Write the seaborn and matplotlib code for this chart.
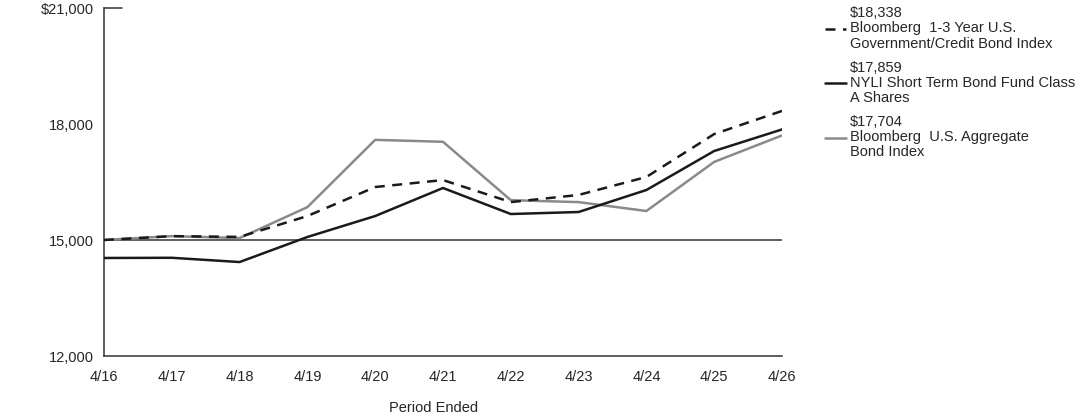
import matplotlib
matplotlib.use("Agg")
import matplotlib.pyplot as plt
import seaborn as sns
import pandas as pd
from matplotlib.ticker import FuncFormatter

periods = ["4/16", "4/17", "4/18", "4/19", "4/20", "4/21", "4/22", "4/23", "4/24", "4/25", "4/26"]
bench_1_3 = [15000, 15100, 15080, 15620, 16370, 16550, 15980, 16165, 16630, 17740, 18338]
fund_a = [14535, 14540, 14430, 15078, 15620, 16345, 15672, 15724, 16293, 17302, 17859]
aggregate = [15000, 15100, 15050, 15850, 17590, 17540, 16030, 15980, 15750, 17020, 17704]

labels = [
    "$18,338\nBloomberg  1-3 Year U.S.\nGovernment/Credit Bond Index",
    "$17,859\nNYLI Short Term Bond Fund Class\nA Shares",
    "$17,704\nBloomberg  U.S. Aggregate\nBond Index",
]

sns.set_style("white")
plt.rcParams["font.family"] = ["Liberation Sans", "DejaVu Sans"]
FS = 10.5

fig = plt.figure(figsize=(10.92, 4.17), dpi=100)
ax = fig.add_axes([104 / 1092, 1 - 356 / 417, (782 - 104) / 1092, (356 - 8) / 417])

x = list(range(len(periods)))
df = pd.DataFrame({"x": x, "b": bench_1_3, "f": fund_a, "g": aggregate})

ax.axhline(15000, color="#333333", lw=1.1, zorder=1)
sns.lineplot(data=df, x="x", y="g", ax=ax, color="#8a8a8a", lw=1.8, label=labels[2], zorder=2)
sns.lineplot(data=df, x="x", y="f", ax=ax, color="#1a1a1a", lw=1.8, label=labels[1], zorder=3)
sns.lineplot(data=df, x="x", y="b", ax=ax, color="#1a1a1a", lw=1.8, label=labels[0], zorder=4)
ax.lines[-1].set_dashes([4, 3])

ax.set_xlim(0, len(periods) - 1)
ax.set_ylim(12000, 21000)
ax.set_xticks(x)
ax.set_xticklabels(periods)
ax.set_yticks([12000, 15000, 18000, 21000])
ax.yaxis.set_major_formatter(FuncFormatter(lambda v, p: f"${v:,.0f}" if v == 21000 else f"{v:,.0f}"))
ax.tick_params(axis="x", direction="in", length=4, width=1, color="#333333", labelsize=FS, pad=10)
ax.tick_params(axis="y", length=0, labelsize=FS, pad=7)
ax.axhline(21000, xmin=0, xmax=18 / 678, color="#333333", lw=1.1, clip_on=False)
for s in ["top", "right"]:
    ax.spines[s].set_visible(False)
for s in ["left", "bottom"]:
    ax.spines[s].set_color("#333333")
    ax.spines[s].set_linewidth(1.1)
ax.set_xlabel("Period Ended", fontsize=FS, va="center")
ax.xaxis.set_label_coords((434 - 104) / 678, -(408 - 356) / 348)
ax.set_ylabel("")

handles, labs = ax.get_legend_handles_labels()
order = [2, 1, 0]
leg = ax.legend([handles[i] for i in order], [labs[i] for i in order],
                loc="upper left", bbox_to_anchor=(821 / 1092, 1 - 2 / 417), bbox_transform=fig.transFigure,
                frameon=False, fontsize=FS, handlelength=1.4, handletextpad=0.3,
                labelspacing=0.7, borderaxespad=0.15, borderpad=0.15)
for t in leg.get_texts():
    t.set_linespacing(1.1)

fig.savefig("out.png", dpi=100)
